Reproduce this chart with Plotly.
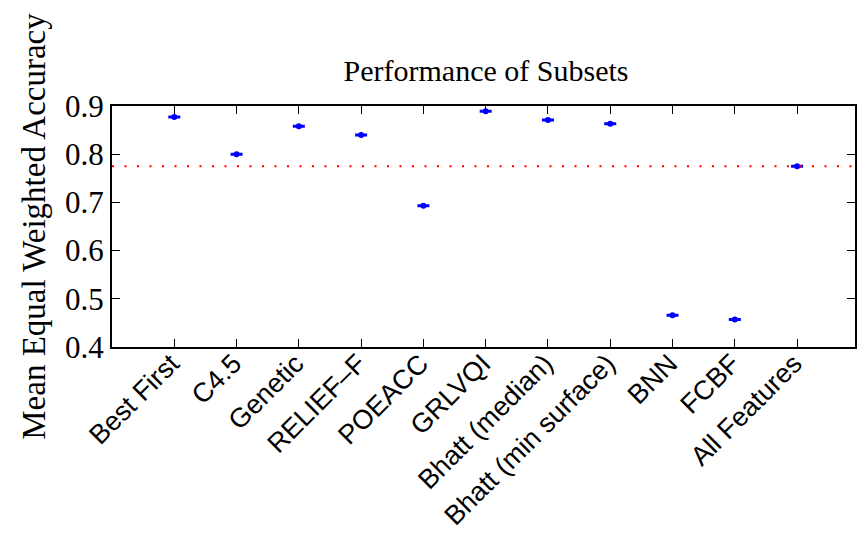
import plotly.graph_objects as go

categories = ["Best First", "C4.5", "Genetic", "RELIEF\u2013F", "POEACC", "GRLVQI",
              "Bhatt (median)", "Bhatt (min surface)", "BNN", "FCBF", "All Features"]
means = [0.877, 0.800, 0.858, 0.840, 0.693, 0.889, 0.871, 0.863, 0.466, 0.457, 0.775]
errors = [0.001] * 11
baseline = 0.775

x = list(range(len(categories)))
fig = go.Figure()
fig.add_trace(go.Scatter(
    x=x, y=means, mode="markers",
    marker=dict(color="blue", size=6),
    error_y=dict(type="data", array=errors, color="blue", thickness=2, width=6),
    showlegend=False,
))
fig.add_trace(go.Scatter(
    x=[-1, 11], y=[baseline, baseline], mode="lines",
    line=dict(color="red", width=2, dash="2px,10.5px"), showlegend=False,
))

serif = "Liberation Serif, Times New Roman, serif"
fig.update_layout(
    width=857, height=533,
    margin=dict(l=112, r=0, t=106, b=186),
    paper_bgcolor="white", plot_bgcolor="white",
    title=dict(text="Performance of Subsets", x=486 / 857, xanchor="center",
               y=1 - 70 / 533, yanchor="middle",
               font=dict(family=serif, size=30, color="black")),
    xaxis=dict(range=[-1, 10.93], tickmode="array", tickvals=x, ticktext=categories,
               tickangle=-45, ticks="inside", ticklen=8, tickcolor="black",
               ticklabelstandoff=-12, ticklabelshift=-3,
               showline=True, linecolor="black", linewidth=2, mirror="ticks",
               showgrid=False, zeroline=False,
               tickfont=dict(family="Liberation Sans, Arial, sans-serif", size=27, color="black")),
    yaxis=dict(range=[0.4, 0.9], tickvals=[0.4, 0.5, 0.6, 0.7, 0.8, 0.9],
               ticktext=["0.4", "0.5", "0.6", "0.7", "0.8", "0.9"],
               ticks="inside", ticklen=8, tickcolor="black",
               showline=True, linecolor="black", linewidth=2, mirror="ticks",
               showgrid=False, zeroline=False,
               tickfont=dict(family=serif, size=31, color="black"),
               title=dict(text="Mean Equal Weighted Accuracy", standoff=9,
                          font=dict(family=serif, size=33, color="black"))),
)
fig.write_html("out.html", config={"displayModeBar": False},
               post_script="document.body.style.margin='0';")
